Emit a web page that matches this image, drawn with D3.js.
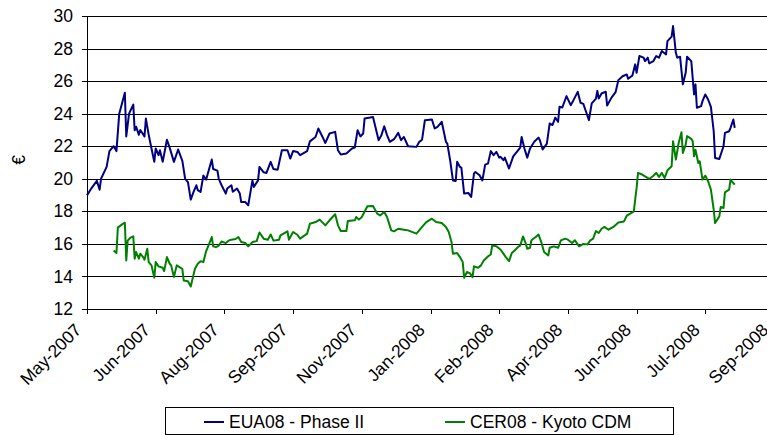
<!DOCTYPE html>
<html>
  <head>
    <meta charset="utf-8">
    <title>EUA08 vs CER08</title>
    <style>
      body { margin: 0; background: #fff; }
      text { font-family: "Liberation Sans", Arial, sans-serif; fill: #000; font-size: 17.5px; }
      .grid line { stroke: #000; stroke-width: 1px; shape-rendering: crispEdges; }
      .axis path, .axis line { stroke: #000; shape-rendering: crispEdges; }
      .series { fill: none; stroke-width: 2px; stroke-linejoin: round; }
    </style>
  </head>
  <body>
    <div id="chart"></div>
    <script src="https://cdn.jsdelivr.net/npm/d3@7"></script>
    <script>

      // day offsets are counted from this date
      var baseDate   = "2007-05-06";

      var tickLabels = ["May-2007","Jun-2007","Aug-2007","Sep-2007","Nov-2007","Jan-2008",
                        "Feb-2008","Apr-2008","Jun-2008","Jul-2008","Sep-2008"];
      var tickStep   = 49;   // days between date-axis labels
      var yTicks     = [12,14,16,18,20,22,24,26,28,30];

      var seriesNames = ["EUA08 - Phase II", "CER08 - Kyoto CDM"];

      var euaDays = [0,3,7,9,10,14,16,19,21,23,27,28,30,33,34,35,37,38,41,42,44,46,48,49,51,52,54,57,59,62,
                     65,68,70,72,74,76,78,79,81,83,85,89,90,93,94,96,99,100,103,104,107,109,110,113,115,118,119,122,123,126,
                     128,131,133,136,139,143,145,147,150,152,157,159,163,165,168,170,173,177,179,181,185,189,191,193,195,197,198,202,204,208,
                     210,212,214,216,219,222,224,226,229,235,237,239,241,246,248,250,253,256,257,259,261,263,264,266,267,269,272,274,276,277,
                     280,282,284,286,288,290,292,294,295,297,298,301,304,307,309,310,312,314,316,319,322,323,325,328,330,332,334,336,337,339,
                     342,345,347,350,352,354,356,358,360,363,364,365,367,370,371,374,377,379,382,385,386,389,391,392,394,397,398,400,401,404,
                     406,408,410,413,414,417,418,420,421,423,425,427,428,431,433,434,435,438,439,441,443,445,447,448,451,454,455,458,459,461,462];
      var euaValues = [18.98,19.4,19.87,19.33,20.0,20.73,21.7,22.0,21.7,24.0,25.28,22.6,24.0,24.56,22.98,23.2,22.7,23.0,22.6,23.7,22.7,21.86,21.04,21.86,21.45,21.75,21.04,22.4,21.9,21.04,
                     21.8,21.1,20.0,19.8,18.72,19.19,19.6,19.3,19.19,20.2,19.95,21.18,20.6,20.5,20.0,19.6,19.09,19.4,19.6,19.2,19.4,19.09,18.57,18.57,18.37,19.9,19.5,19.9,20.73,20.4,
                     20.36,21.04,20.6,20.56,21.75,21.75,21.24,21.7,21.65,21.45,21.7,22.3,22.57,23.09,22.57,22.2,22.78,22.88,21.75,21.49,21.55,21.86,21.92,22.98,22.6,22.78,23.7,23.76,23.8,22.37,
                     22.68,23.23,22.68,22.27,22.43,22.82,22.37,22.57,22.0,21.96,22.27,22.4,23.6,23.64,23.09,23.19,23.5,22.27,22.16,21.14,19.9,19.87,21.04,20.73,20.69,19.09,19.13,18.88,20.32,20.42,
                     20.22,19.9,20.87,20.93,21.7,21.45,21.65,21.3,21.35,21.14,21.3,20.63,21.38,21.7,21.92,22.57,21.86,21.3,21.86,22.27,22.53,22.37,21.8,22.16,23.4,23.3,23.76,23.5,24.42,24.38,
                     25.08,24.52,24.83,25.34,24.67,24.6,24.1,23.6,24.63,24.93,25.4,24.93,25.24,25.35,24.5,24.97,25.32,26.06,26.3,26.41,26.14,26.35,27.03,26.51,27.54,27.44,27.23,27.44,27.09,27.23,
                     27.54,27.44,27.85,27.64,28.46,28.73,29.38,27.74,27.44,27.5,25.8,26.51,27.5,27.23,25.18,25.8,24.36,24.46,24.77,25.18,24.87,24.42,22.92,21.28,21.22,22.0,22.82,22.92,23.13,23.64,23.13];

      var cerDays = [19,21,22,25,27,28,29,31,33,34,35,37,38,40,41,43,44,46,48,49,51,54,55,57,59,60,62,64,66,68,
                     69,72,74,75,77,79,81,83,85,87,89,90,92,94,96,99,101,103,106,108,110,113,115,118,121,123,126,129,131,133,
                     137,138,143,144,147,150,152,157,159,163,166,170,173,177,179,181,185,186,191,192,194,196,200,204,207,209,212,214,217,219,
                     222,226,229,235,239,242,246,249,253,256,258,260,261,264,266,268,269,271,273,275,276,279,281,283,286,288,289,292,295,297,
                     299,301,303,305,308,309,311,313,314,316,317,320,322,324,326,329,330,333,336,338,341,343,346,348,351,354,357,359,361,363,
                     365,367,369,372,376,379,383,385,389,390,392,393,396,398,401,404,406,408,410,412,414,417,418,420,422,424,425,427,428,431,
                     432,433,434,436,437,439,441,443,445,447,448,451,452,454,455,458,459,461,462];
      var cerValues = [15.6,15.44,17.0,17.2,17.3,14.98,16.2,16.38,16.46,15.09,15.5,15.09,15.4,15.19,15.03,15.7,14.88,14.68,13.92,14.88,14.62,14.53,14.33,15.19,14.78,14.68,13.96,14.68,14.57,14.47,
                     13.75,13.71,13.38,13.75,14.47,14.78,14.94,14.88,15.56,15.97,16.42,15.85,15.8,15.9,16.15,16.05,16.2,16.26,16.3,16.42,16.11,16.05,15.85,16.11,16.17,16.7,16.32,16.26,16.58,16.2,
                     16.26,16.52,16.77,16.26,16.73,16.56,16.32,16.63,17.24,17.34,17.49,17.14,17.45,17.82,17.14,16.79,16.79,17.4,17.45,17.65,17.49,17.65,18.31,18.33,17.86,17.75,17.96,17.65,16.83,16.77,
                     16.93,16.87,16.83,16.63,17.04,17.34,17.55,17.34,17.28,17.04,16.73,16.11,15.4,15.44,15.19,14.88,13.92,14.27,14.2,13.96,14.62,14.53,14.68,14.98,15.23,15.35,15.9,15.85,15.64,15.4,
                     15.15,14.94,15.44,15.6,15.85,15.9,16.46,16.0,15.7,15.76,16.22,16.42,16.58,16.11,15.5,15.29,15.76,15.85,15.76,16.22,16.32,16.26,16.05,16.22,15.85,16.0,15.97,16.22,16.32,16.79,
                     16.67,16.93,17.04,16.87,17.08,17.32,17.38,17.73,17.94,18.0,19.44,20.36,20.26,20.15,19.99,20.19,20.36,20.11,20.36,20.05,20.52,20.77,22.31,21.18,22.2,22.86,21.59,22.1,22.62,22.45,
                     22.31,21.38,21.79,20.97,21.08,19.95,20.19,19.85,19.33,18.1,17.28,17.69,18.27,18.21,19.17,19.33,19.95,19.74,19.64];

      var colors = ["#000080", "#008000"];

      var outerWidth  = 767,
          outerHeight = 435,
          margin      = { top: 16, left: 87 },
          width       = 687,
          height      = 293;

      var base  = d3.timeParse("%Y-%m-%d")(baseDate);
      var toDate = function(d){ return d3.timeDay.offset(base, d); };

      var tickDates = tickLabels.map(function(l, i){ return toDate(i * tickStep); });

      var x = d3.scaleTime()
                .domain([tickDates[0], tickDates[tickDates.length - 1]])
                .range([0, width]);

      var y = d3.scaleLinear()
                .domain([12, 30])
                .range([height, 0]);

      var svg = d3.select("#chart")
                  .append("svg")
                  .attr("width", outerWidth)
                  .attr("height", outerHeight);

      var g = svg.append("g")
                 .attr("transform", "translate(" + margin.left + "," + margin.top + ")");

      // horizontal grid
      g.append("g")
        .attr("class", "grid")
        .selectAll("line")
        .data(yTicks.slice(1))
        .enter().append("line")
        .attr("x1", 0)
        .attr("x2", width)
        .attr("y1", function(d){ return Math.round(y(d)) + 0.5; })
        .attr("y2", function(d){ return Math.round(y(d)) + 0.5; });

      // y axis
      var gY = g.append("g")
                .attr("class", "axis")
                .call(d3.axisLeft(y).tickValues(yTicks).tickSize(5).tickSizeOuter(0).tickPadding(9));
      gY.selectAll("text").style("font-size", null);

      // x axis
      var fmt = {};
      tickDates.forEach(function(d, i){ fmt[+d] = tickLabels[i]; });
      var gX = g.append("g")
                .attr("class", "axis")
                .attr("transform", "translate(0," + height + ")")
                .call(d3.axisBottom(x).tickValues(tickDates).tickSize(5).tickSizeOuter(0)
                        .tickFormat(function(d){ return fmt[+d]; }));
      gX.selectAll("text")
        .style("text-anchor", "end")
        .attr("dy", null)
        .attr("x", 0)
        .attr("y", 0)
        .attr("transform", "translate(-5,22) rotate(-45)");
      g.selectAll(".axis").attr("font-size", null).attr("font-family", null);

      // lines
      var line = d3.line()
                   .x(function(d){ return x(toDate(d[0])); })
                   .y(function(d){ return y(d[1]); });

      var series = [
        d3.zip(euaDays, euaValues),
        d3.zip(cerDays, cerValues)
      ];

      g.selectAll(".series")
        .data(series)
        .enter().append("path")
        .attr("class", "series")
        .attr("stroke", function(d, i){ return colors[i]; })
        .attr("d", line);

      // y label
      svg.append("text")
         .attr("transform", "translate(25,160) rotate(-90)")
         .style("text-anchor", "middle")
         .text("€");

      // legend
      var legend = svg.append("g");
      legend.append("rect")
            .attr("x", 165.5).attr("y", 407.5)
            .attr("width", 508).attr("height", 27)
            .attr("fill", "#fff").attr("stroke", "#000");

      var legendX = [204, 445];
      seriesNames.forEach(function(name, i){
        legend.append("line")
              .attr("x1", legendX[i]).attr("x2", legendX[i] + 20)
              .attr("y1", 422).attr("y2", 422)
              .attr("stroke", colors[i]).attr("stroke-width", 2);
        legend.append("text")
              .attr("x", legendX[i] + 25).attr("y", 428)
              .text(name);
      });

    </script>
  </body>
</html>
